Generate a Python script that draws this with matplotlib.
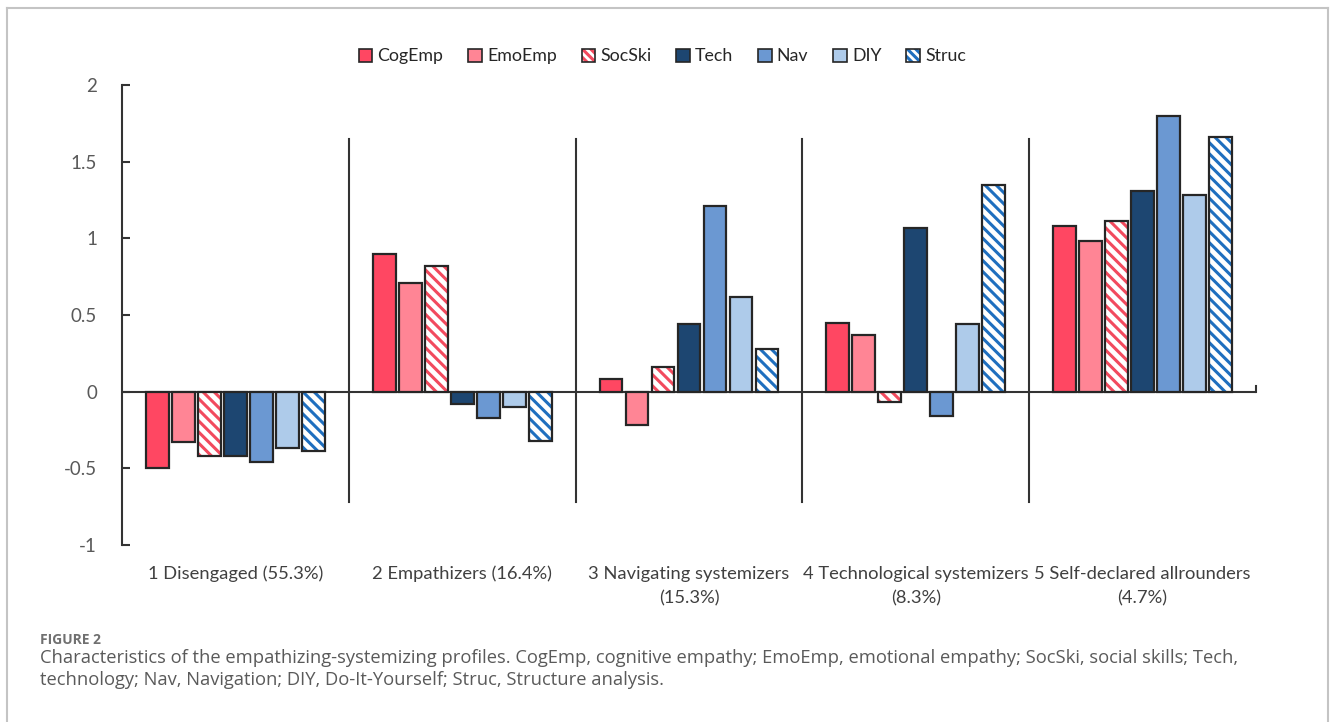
import numpy as np
import matplotlib
matplotlib.use("Agg")
import matplotlib.pyplot as plt
from matplotlib.patches import Patch
from matplotlib.lines import Line2D

plt.rcParams['font.family'] = ['Lato', 'DejaVu Sans']
plt.rcParams['hatch.linewidth'] = 2.2

categories = ["1 Disengaged (55.3%)", "2 Empathizers (16.4%)",
              "3 Navigating systemizers\n(15.3%)",
              "4 Technological systemizers\n(8.3%)",
              "5 Self-declared allrounders\n(4.7%)"]
series = ["CogEmp", "EmoEmp", "SocSki", "Tech", "Nav", "DIY", "Struc"]
values = {
    "CogEmp": [-0.50, 0.90, 0.08, 0.45, 1.08],
    "EmoEmp": [-0.33, 0.71, -0.22, 0.37, 0.98],
    "SocSki": [-0.42, 0.82, 0.16, -0.07, 1.11],
    "Tech":   [-0.42, -0.08, 0.44, 1.07, 1.31],
    "Nav":    [-0.46, -0.17, 1.21, -0.16, 1.80],
    "DIY":    [-0.37, -0.10, 0.62, 0.44, 1.28],
    "Struc":  [-0.39, -0.32, 0.28, 1.35, 1.66],
}
colors = {"CogEmp": "#ff4762", "EmoEmp": "#ff8595", "SocSki": "#f24a5e",
          "Tech": "#1d4671", "Nav": "#6b98d2", "DIY": "#aecbea", "Struc": "#1f6fbf"}
hatched = {"SocSki", "Struc"}

fig = plt.figure(figsize=(13.3, 7.22), dpi=100)
ax = fig.add_axes([122 / 1330, 1 - 545 / 722, 1134 / 1330, 460 / 722])

x = np.arange(len(categories)) + 0.5
pitch = 0.1146
width = 0.101
edge = "#262626"
handles = []
for i, s in enumerate(series):
    pos = x + (i - 3) * pitch
    if s in hatched:
        ax.bar(pos, values[s], width, color="white", edgecolor=colors[s],
               hatch="\\\\\\", linewidth=0, zorder=2)
        ax.bar(pos, values[s], width, fill=False, edgecolor=edge,
               linewidth=1.6, zorder=3)
        h = (Patch(facecolor="white", edgecolor=colors[s], hatch="\\\\\\\\", linewidth=0),
             Patch(fill=False, edgecolor=edge, linewidth=1.2))
    else:
        ax.bar(pos, values[s], width, color=colors[s], edgecolor=edge,
               linewidth=1.6, zorder=3)
        h = Patch(facecolor=colors[s], edgecolor=edge, linewidth=1.2)
    handles.append(h)

ax.set_xlim(0, 5)
ax.set_ylim(-1, 2)
ax.set_yticks([-1, -0.5, 0, 0.5, 1, 1.5, 2])
ax.set_yticklabels(["-1", "-0.5", "0", "0.5", "1", "1.5", "2"])
for sp in ["top", "right", "bottom"]:
    ax.spines[sp].set_visible(False)
ax.spines["left"].set_color("#333333")
ax.spines["left"].set_linewidth(1.5)
ax.tick_params(axis="y", direction="in", length=6, width=1.5, color="#333333",
               labelcolor="#595959", labelsize=13.5, pad=18)
ax.tick_params(axis="x", length=0, labelcolor="#404040", labelsize=13.2, pad=15)
ax.set_xticks(x)
ax.set_xticklabels(categories, linespacing=1.65, va="top")

ax.axhline(0, color="#333333", lw=1.5, zorder=1)
ax.plot([5, 5], [0, 0.04], color="#333333", lw=1.5, clip_on=False)
for b in [1, 2, 3, 4]:
    ax.plot([b, b], [-0.72, 1.65], color="#333333", lw=1.5, zorder=1)

fig.legend(handles, series, loc="center", bbox_to_anchor=(0.498, 0.922), ncol=7,
           frameon=False, handlelength=0.75, handleheight=0.75, handletextpad=0.3,
           columnspacing=1.4, fontsize=12.8, labelcolor="#262626")

# caption
fig.text(40 / 1330, 1 - 640 / 722, "FIGURE 2", fontsize=10, color="#707070",
         fontweight="bold", va="center", family=["Open Sans", "DejaVu Sans"])
fig.text(40 / 1330, 1 - 669 / 722,
         "Characteristics of the empathizing-systemizing profiles. CogEmp, cognitive empathy; "
         "EmoEmp, emotional empathy; SocSki, social skills; Tech,\n"
         "technology; Nav, Navigation; DIY, Do-It-Yourself; Struc, Structure analysis.",
         fontsize=13.2, color="#5a5a5a", va="center", linespacing=1.35,
         family=["Open Sans", "DejaVu Sans"])

# outer frame
fc = "#c4c4c4"
fig.add_artist(Line2D([7 / 1330, 7 / 1330], [0, 1 - 8 / 722], color=fc, lw=1.5))
fig.add_artist(Line2D([7 / 1330, 1328 / 1330], [1 - 8 / 722, 1 - 8 / 722], color=fc, lw=1.5))
fig.add_artist(Line2D([1328 / 1330, 1328 / 1330], [0, 1 - 8 / 722], color=fc, lw=1.5))

fig.savefig("out.png", dpi=100)
